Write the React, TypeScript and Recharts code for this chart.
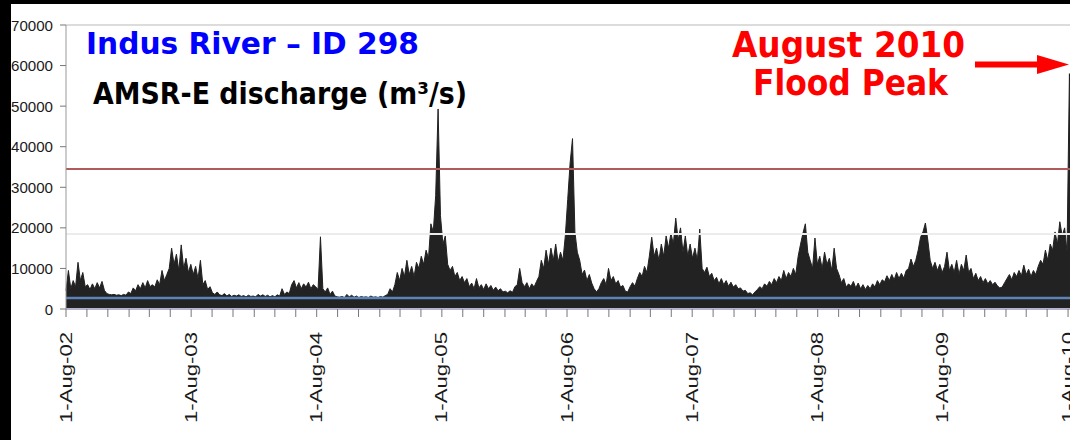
import * as React from "react";
import {
  Area,
  ComposedChart,
  ReferenceLine,
  XAxis,
  YAxis,
} from "recharts";

// weekly AMSR-E discharge (m3/s), one array per season (Aug-Jul)
const q2002_03 = [
  4500, 9500, 5000, 7000, 5500, 11500, 7000, 9000, 5500, 6000,
  4800, 6200, 5000, 6500, 5200, 6800, 4600, 3800, 3600, 3500,
  3600, 3400, 3500, 3300, 3600, 3400, 4200, 3800, 5200, 4500,
  6000, 5000, 6500, 5200, 7000, 5500, 6000, 5400, 7200, 6000,
  9500, 7000, 8500, 10000, 15000, 11000, 13500, 9500, 15800, 10000,
  12500, 9000,
];
const q2003_04 = [
  11000, 8500, 10500, 7500, 12000, 6000, 7000, 4800, 5500, 4000,
  3600, 4200, 3500, 3300, 3800, 3200, 3600, 3100, 3400, 3200,
  3500, 3100, 3300, 3000, 3400, 3100, 3200, 3000, 3600, 3200,
  3500, 3100, 3400, 3000, 3300, 3000, 3500, 3200, 5000, 3600,
  4200, 3800, 6000, 7000, 5200, 6500, 5000, 6200, 5400, 6600,
  5000, 6000,
];
const q2004_05 = [
  5500, 4800, 17800, 5000, 4200, 5200, 3600, 4400, 3200, 3000,
  2900, 3100, 2800, 3600, 3000, 3400, 2900, 3200, 2800, 3100,
  2900, 3000, 2800, 3200, 2900, 3000, 2800, 3100, 2900, 3300,
  3600, 5000, 4200, 6000, 9000, 7000, 10000, 8000, 12000, 8500,
  10500, 8000, 11500, 10000, 13000, 11000, 14500, 12500, 21000, 19000,
  28000, 49300,
];
const q2005_06 = [
  23000, 16000, 18000, 11000, 9500, 10500, 8000, 9000, 7000, 8000,
  6500, 7500, 5500, 6400, 5000, 7500, 5200, 6000, 4800, 6200,
  5000, 5800, 4600, 5400, 4500, 5000, 4200, 4400, 4000, 4500,
  4100, 5500, 6000, 10000, 6500, 5500, 6500, 5000, 6200, 5400,
  6800, 8000, 12000, 10000, 14500, 11000, 15000, 12000, 16000, 11500,
  14000, 12000,
];
const q2006_07 = [
  18000, 27000, 36000, 42000, 19000, 14000, 12000, 8500, 9600, 7000,
  8500, 6400, 5000, 4200, 5000, 6500, 7500, 6000, 10000, 7000,
  8000, 6200, 7000, 5400, 5800, 4400, 4200, 5500, 6500, 5600,
  7500, 9000, 8000, 10500, 9000, 13000, 17700, 13000, 15000, 12000,
  16000, 13000, 18000, 15000, 18700, 16000, 22400, 17000, 20000, 14000,
  18000, 13000,
];
const q2007_08 = [
  16000, 12500, 15000, 12000, 19700, 10000, 9000, 10300, 8000, 8800,
  7000, 7800, 6200, 7500, 6000, 7000, 5600, 6600, 5400, 6000,
  5000, 5200, 4400, 4600, 3800, 4000, 3500, 4200, 4800, 5500,
  5000, 6200, 5600, 6800, 6000, 7500, 6500, 8000, 7000, 9500,
  7500, 9000, 8000, 10000, 8500, 13000, 16000, 18700, 21000, 14000,
  12000, 10000,
];
const q2008_09 = [
  17500, 11000, 13000, 10000, 14000, 11000, 12500, 9500, 15000, 10000,
  8500, 6500, 7500, 5400, 6200, 5600, 6800, 5200, 6400, 5000,
  6000, 4800, 5800, 5000, 6200, 5400, 7000, 6000, 7200, 6700,
  8200, 7000, 8500, 7200, 9000, 7500, 8800, 7600, 9500, 10000,
  12300, 10500, 12000, 14500, 17700, 19000, 21200, 17000, 12000, 10000,
  11500, 9500,
];
const q2009_10 = [
  11000, 9000, 10500, 14000, 9500, 11000, 9000, 12000, 8500, 11000,
  9500, 13300, 9000, 10000, 7500, 8800, 7000, 8000, 6500, 7500,
  6200, 7000, 6000, 6600, 5700, 5200, 5400, 6500, 7500, 8500,
  7200, 9000, 8000, 9500, 8200, 10800, 8500, 9800, 8000, 9500,
  8500, 10500, 12000, 11000, 14500, 12000, 16000, 14500, 19000, 16000,
  21500, 18000, 20000, 14000, 58000, 20000,
];

const yTicks = [0, 10000, 20000, 30000, 40000, 50000, 60000, 70000];
const floodLevel = 34500;
const meanLevel = 18500;
const baseLevel = 2700;

const START = Date.UTC(2002, 7, 1);
const DAY = 86400000;
const MONTHS = ["Jan", "Feb", "Mar", "Apr", "May", "Jun", "Jul", "Aug", "Sep", "Oct", "Nov", "Dec"];
const X_MAX = 2986;

const seasons = [q2002_03, q2003_04, q2004_05, q2005_06, q2006_07, q2007_08, q2008_09, q2009_10];
const rows = seasons.flat().map((q, i) => ({ day: i * 7, q }));

// a tick every two months, labels only on 1 August
const xTicks: number[] = [];
for (let m = 0; m < 100; m += 2) {
  const d = (Date.UTC(2002, 7 + m, 1) - START) / DAY;
  if (d > X_MAX) break;
  xTicks.push(d);
}

function xLabel(d: number) {
  const dt = new Date(START + d * DAY);
  if (dt.getUTCMonth() !== 7) return "";
  const yy = String(dt.getUTCFullYear() % 100).padStart(2, "0");
  return `1-${MONTHS[dt.getUTCMonth()]}-${yy}`;
}

const XTick = (props: any) => {
  const { x, y, payload } = props;
  const label = xLabel(payload.value);
  if (!label) return <g />;
  const ty = y + 13;
  return (
    <text
      x={x}
      y={ty}
      transform={`rotate(-90 ${x} ${ty})`}
      textAnchor="end"
      dominantBaseline="central"
      fontSize={16}
      fontFamily="'Liberation Sans', Arial, sans-serif"
      fill="#1a1a1a"
      textLength={91}
      lengthAdjust="spacingAndGlyphs"
    >
      {label}
    </text>
  );
};

const YTick = (props: any) => {
  const { x, y, payload } = props;
  const s = String(payload.value);
  return (
    <text
      x={x - 5}
      y={y}
      textAnchor="end"
      dominantBaseline="central"
      fontSize={15}
      fontFamily="'Liberation Sans', Arial, sans-serif"
      fill="#1a1a1a"
      {...(s.length > 1 ? { textLength: 42, lengthAdjust: "spacingAndGlyphs" } : {})}
    >
      {s}
    </text>
  );
};

export default function App() {
  return (
    <div
      style={{
        position: "absolute",
        left: 0,
        top: 0,
        width: 1070,
        height: 440,
        overflow: "hidden",
        background: "#fff",
      }}
    >
      <div style={{ position: "absolute", left: 0, top: 0 }}>
        <ComposedChart
          width={1090}
          height={440}
          data={rows}
          margin={{ top: 25, right: 0, bottom: 0, left: 0 }}
        >
          <XAxis
            dataKey="day"
            type="number"
            domain={[0, X_MAX]}
            ticks={xTicks}
            interval={0}
            height={131}
            tickSize={8}
            tickLine={{ stroke: "#777" }}
            axisLine={{ stroke: "#b4b4cc", strokeWidth: 2 }}
            tick={XTick}
          />
          <YAxis
            type="number"
            domain={[0, 70000]}
            ticks={yTicks}
            interval={0}
            width={66}
            tickSize={6}
            tickLine={{ stroke: "#777" }}
            axisLine={{ stroke: "#999" }}
            tick={YTick}
          />
          <Area
            dataKey="q"
            type="linear"
            stroke="#222"
            strokeWidth={1}
            fill="#222"
            fillOpacity={1}
            dot={false}
            activeDot={false}
            isAnimationActive={false}
          />
          <ReferenceLine y={70000} stroke="#dcdcdc" strokeWidth={2} />
          <ReferenceLine y={meanLevel} stroke="#ececec" strokeWidth={2} />
          <ReferenceLine y={floodLevel} stroke="#b05a5a" strokeWidth={2} />
          <ReferenceLine y={baseLevel} stroke="#5d82b8" strokeWidth={2.5} />
        </ComposedChart>
      </div>
      <svg
        width={1070}
        height={440}
        style={{ position: "absolute", left: 0, top: 0, pointerEvents: "none" }}
      >
        <g fontFamily="'DejaVu Sans', Verdana, sans-serif" fontWeight="bold">
          <text x={86} y={54} fontSize={30} fill="#0000ff" textLength={333} lengthAdjust="spacingAndGlyphs">
            Indus River – ID 298
          </text>
          <text x={93} y={104} fontSize={30} fill="#000" textLength={374} lengthAdjust="spacingAndGlyphs">
            AMSR-E discharge (m³/s)
          </text>
          <text x={732} y={57} fontSize={35} fill="#ff0000" textLength={233} lengthAdjust="spacingAndGlyphs">
            August 2010
          </text>
          <text x={753} y={95} fontSize={35} fill="#ff0000" textLength={195} lengthAdjust="spacingAndGlyphs">
            Flood Peak
          </text>
        </g>
        <line x1={975} y1={64.5} x2={1040} y2={64.5} stroke="#ff0000" strokeWidth={6} />
        <polygon points="1037,55 1069,64.5 1037,74" fill="#ff0000" />
        <rect x={0} y={0} width={11} height={440} fill="#000" />
        <rect x={0} y={0} width={1070} height={4} fill="#000" />
      </svg>
    </div>
  );
}
